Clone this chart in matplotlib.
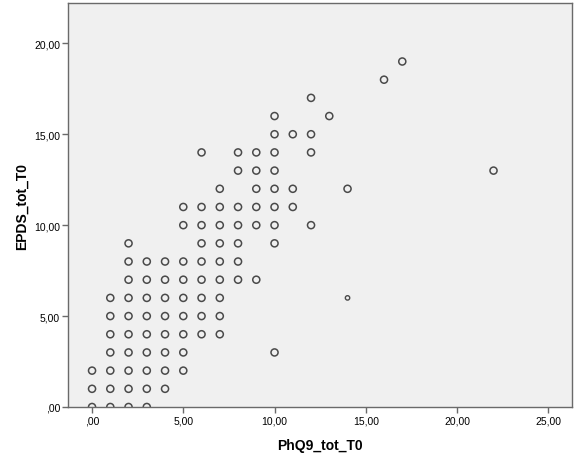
import matplotlib
matplotlib.use('Agg')
import matplotlib.pyplot as plt

plt.rcParams['font.family'] = ['Liberation Sans', 'DejaVu Sans']

# PhQ9_tot_T0 (x) / EPDS_tot_T0 (y), one entry per distinct point
phq9 = [0, 1, 2, 3,
        0, 1, 2, 3, 4,
        0, 1, 2, 3, 4, 5,
        1, 2, 3, 4, 5, 10,
        1, 2, 3, 4, 5, 6, 7,
        1, 2, 3, 4, 5, 6, 7,
        1, 2, 3, 4, 5, 6, 7,
        2, 3, 4, 5, 6, 7, 8, 9,
        2, 3, 4, 5, 6, 7, 8,
        2, 6, 7, 8, 10,
        5, 6, 7, 8, 9, 10, 12,
        5, 6, 7, 8, 9, 10, 11,
        7, 9, 10, 11, 14,
        8, 9, 10, 22,
        6, 8, 9, 10, 12,
        10, 11, 12,
        10, 13,
        12,
        16,
        17]
epds = [0, 0, 0, 0,
        1, 1, 1, 1, 1,
        2, 2, 2, 2, 2, 2,
        3, 3, 3, 3, 3, 3,
        4, 4, 4, 4, 4, 4, 4,
        5, 5, 5, 5, 5, 5, 5,
        6, 6, 6, 6, 6, 6, 6,
        7, 7, 7, 7, 7, 7, 7, 7,
        8, 8, 8, 8, 8, 8, 8,
        9, 9, 9, 9, 9,
        10, 10, 10, 10, 10, 10, 10,
        11, 11, 11, 11, 11, 11, 11,
        12, 12, 12, 12, 12,
        13, 13, 13, 13,
        14, 14, 14, 14, 14,
        15, 15, 15,
        16, 16,
        17,
        18,
        19]

# single point drawn with a smaller marker
small_phq9 = [14]
small_epds = [6]

x_ticks = [0, 5, 10, 15, 20, 25]
y_ticks = [0, 5, 10, 15, 20]


def fmt(v):
    return ',00' if v == 0 else '%d,00' % v


fig = plt.figure(figsize=(5.8, 4.64), dpi=100)
ax = fig.add_axes([0.1178, 0.1207, 0.8684, 0.87])
ax.set_facecolor('#f0f0f0')

ax.scatter(phq9, epds, s=26, facecolors='none', edgecolors='#4a4a4a', linewidths=1.1)
ax.scatter(small_phq9, small_epds, s=10, facecolors='none', edgecolors='#4a4a4a', linewidths=1.0)

ax.set_xlim(-1.3, 26.3)
ax.set_ylim(0.05, 22.2)
ax.set_xticks(x_ticks)
ax.set_xticklabels([fmt(v) for v in x_ticks])
ax.set_yticks(y_ticks)
ax.set_yticklabels([fmt(v) for v in y_ticks])
ax.tick_params(direction='out', length=4, width=1, color='#6a6a6a', labelsize=7.5, pad=2)

for sp in ax.spines.values():
    sp.set_color('#6a6a6a')
    sp.set_linewidth(1)

ax.set_xlabel('PhQ9_tot_T0', fontsize=10, fontweight='bold', labelpad=9)
ax.set_ylabel('EPDS_tot_T0', fontsize=10, fontweight='bold', labelpad=4)

fig.savefig('out.png', dpi=100)
